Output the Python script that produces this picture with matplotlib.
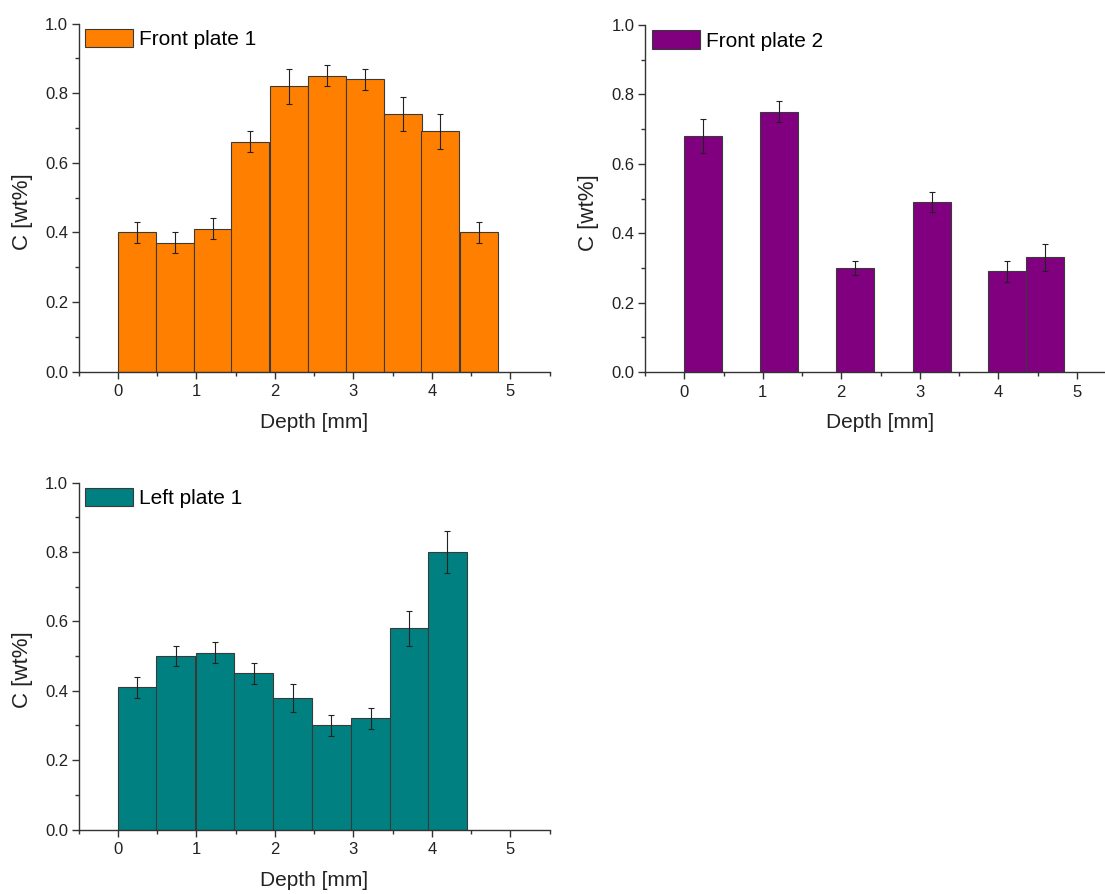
import matplotlib
matplotlib.use("Agg")
import matplotlib.pyplot as plt
from matplotlib.ticker import MultipleLocator

plt.rcParams['font.family'] = ['Liberation Sans', 'DejaVu Sans']

# ---- data ----
fp1_depth = [0.24, 0.73, 1.21, 1.69, 2.18, 2.66, 3.15, 3.63, 4.11, 4.60]
fp1_c = [0.40, 0.37, 0.41, 0.66, 0.82, 0.85, 0.84, 0.74, 0.69, 0.40]
fp1_err = [0.03, 0.03, 0.03, 0.03, 0.05, 0.03, 0.03, 0.05, 0.05, 0.03]

fp2_depth = [0.24, 1.21, 2.18, 3.15, 4.11, 4.60]
fp2_c = [0.68, 0.75, 0.30, 0.49, 0.29, 0.33]
fp2_err = [0.05, 0.03, 0.02, 0.03, 0.03, 0.04]

lp1_depth = [0.25, 0.74, 1.24, 1.73, 2.23, 2.72, 3.22, 3.71, 4.20]
lp1_c = [0.41, 0.50, 0.51, 0.45, 0.38, 0.30, 0.32, 0.58, 0.80]
lp1_err = [0.03, 0.03, 0.03, 0.03, 0.04, 0.03, 0.03, 0.05, 0.06]

xticks = [0, 1, 2, 3, 4, 5]
yticks = [0.0, 0.2, 0.4, 0.6, 0.8, 1.0]

W, H = 1105, 894
fig = plt.figure(figsize=(W / 100, H / 100), dpi=100)


def px_axes(x0, x1, ytop, ybot):
    return fig.add_axes([x0 / W, 1 - ybot / H, (x1 - x0) / W, (ybot - ytop) / H])


def draw(ax, depth, vals, errs, width, color, label):
    ax.bar(depth, vals, width=width, color=color, edgecolor='#3a3a3a',
           linewidth=0.8, label=label, zorder=2)
    ax.errorbar(depth, vals, yerr=errs, fmt='none', ecolor='#222222',
                elinewidth=0.8, capsize=2.5, capthick=0.8, zorder=3)
    ax.set_xlim(-0.5, 5.5)
    ax.set_ylim(0, 1.0)
    ax.set_xticks(xticks)
    ax.set_yticks(yticks)
    ax.set_yticklabels([f"{v:.1f}" for v in yticks])
    ax.xaxis.set_minor_locator(MultipleLocator(0.5))
    ax.yaxis.set_minor_locator(MultipleLocator(0.1))
    for s in ['top', 'right']:
        ax.spines[s].set_visible(False)
    for s in ['left', 'bottom']:
        ax.spines[s].set_color('#333333')
        ax.spines[s].set_linewidth(1.0)
    ax.tick_params(which='major', direction='out', length=5, width=1.0,
                   color='#333333', labelsize=12, labelcolor='#222222')
    ax.tick_params(axis='y', which='major', pad=2.5)
    ax.tick_params(axis='x', which='major', pad=4)
    ax.tick_params(which='minor', direction='out', length=3, width=1.0,
                   color='#333333')
    ax.set_xlabel('Depth [mm]', fontsize=15, color='#222222')
    ax.set_ylabel('C [wt%]', fontsize=16, color='#222222')
    ax.xaxis.set_label_coords(0.5, -0.119)
    ax.yaxis.set_label_coords(-0.097, 0.46)
    ax.legend(loc='upper left', bbox_to_anchor=(0.014, 0.985), frameon=False,
              fontsize=15, handlelength=2.3, handleheight=1.0,
              handletextpad=0.3, borderpad=0, borderaxespad=0)


ax1 = px_axes(78.5, 549.5, 23.5, 371.5)
draw(ax1, fp1_depth, fp1_c, fp1_err, 0.484, '#FF8000', 'Front plate 1')

ax2 = px_axes(645, 1116, 25, 372)
draw(ax2, fp2_depth, fp2_c, fp2_err, 0.484, '#800080', 'Front plate 2')

ax3 = px_axes(78.5, 549.5, 482.5, 829.5)
draw(ax3, lp1_depth, lp1_c, lp1_err, 0.494, '#008080', 'Left plate 1')

fig.savefig('out.png', dpi=100)
